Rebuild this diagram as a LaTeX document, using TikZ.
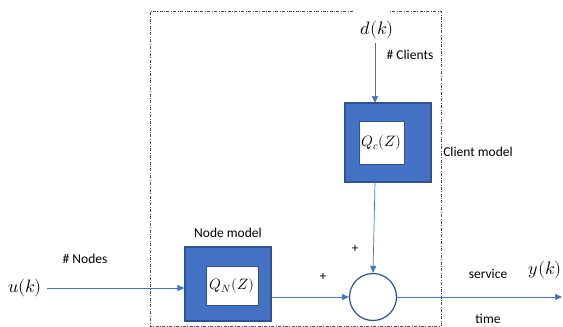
\documentclass[tikz,border=0pt]{standalone}
\usepackage{fontspec}
\setmainfont{Carlito}
\usepackage{unicode-math}
\setmathfont{Latin Modern Math}
\usetikzlibrary{arrows.meta}
\definecolor{boxfill}{HTML}{4472C4}
\definecolor{boxedge}{HTML}{2F528F}
\definecolor{wire}{HTML}{4472C4}
\tikzset{
  block/.style={draw=boxedge, line width=1.2pt, fill=boxfill, minimum width=86pt, inner sep=0pt},
  inner/.style={draw=boxedge, line width=0.6pt, fill=white, inner sep=0pt, font=\fontsize{15}{16}\selectfont},
  sig/.style={draw=wire, line width=0.7pt, -{Triangle[length=7pt,width=6pt]}},
  lbl/.style={font=\fontsize{13.5}{15}\selectfont, inner sep=0pt},
  mathlbl/.style={font=\fontsize{18}{20}\selectfont, inner sep=0pt},
  frame/.style={draw=black!70, line width=0.5pt, dash pattern=on 3pt off 1.5pt on 0.8pt off 1.5pt}
}
\begin{document}
\begin{tikzpicture}[x=1pt,y=-1pt]
\useasboundingbox (0,0) rectangle (563,327);
% dash-dotted frame with a gap at the top for the disturbance input
\draw[frame] (353,11) -- (150,11) -- (150,326) -- (441,326) -- (441,11) -- (390,11);
% client model block
\node[block, minimum width=86pt, minimum height=79pt] (cb) at (388,142.5) {};
\node[inner, minimum width=45pt, minimum height=43pt] (ci) at (381.5,142.5) {$Q_c(Z)$};
% node model block
\node[block, minimum width=86pt, minimum height=74pt] (nb) at (228,284) {};
\node[inner, minimum width=52pt, minimum height=39pt] (ni) at (232,285.5) {$Q_N(Z)$};
% summing junction
\node[draw=boxedge, line width=1.2pt, circle, minimum size=47pt, inner sep=0pt] (sum) at (373,297) {};
% signals
\node[mathlbl] (d) at (377,30) {$d(k)$};
\node[mathlbl] (u) at (25,288) {$u(k)$};
\node[mathlbl, anchor=east] (y) at (562,270) {$y(k)$};
\coordinate (din) at (375,43);
\coordinate (uin) at (47,288);
\coordinate (yout) at (562,297);
\draw[sig] (din) -- (375,103);
\draw[sig] (uin) -- (nb.west |- uin);
\draw[sig] (nb.east |- 0,297) -- (sum.west);
\draw[sig] (cb.south -| 375,0) -- (sum.north);
\draw[sig] (sum.east) -- (yout);
% labels
\node[lbl] (lc) at (410,55) {\# Clients};
\node[lbl] (lcm) at (478,152) {Client model};
\node[lbl] (lnm) at (228,233) {Node model};
\node[lbl] (ln) at (85,259) {\# Nodes};
\node[lbl] (ls) at (488,274) {service};
\node[lbl] (lt) at (488,319) {time};
\node[font=\fontsize{13}{14}\selectfont, inner sep=0pt] (p1) at (323,277) {+};
\node[font=\fontsize{13}{14}\selectfont, inner sep=0pt] (p2) at (355,249) {+};
\end{tikzpicture}
\end{document}
